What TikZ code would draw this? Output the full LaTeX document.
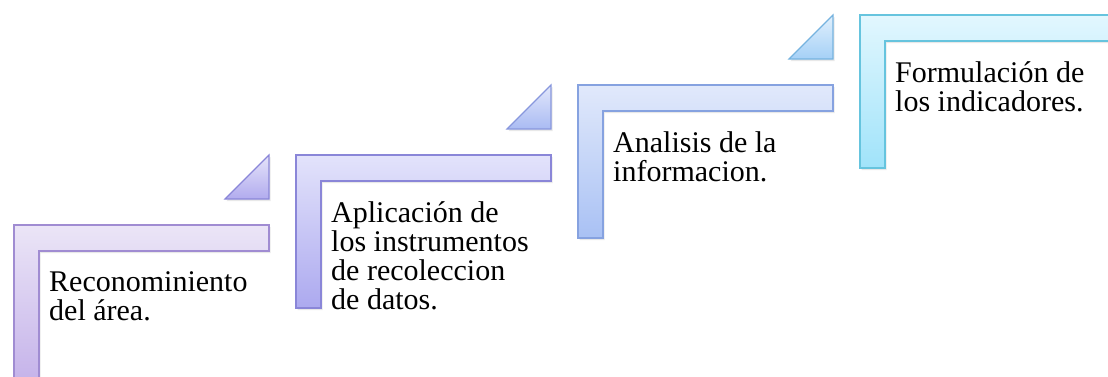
\documentclass[tikz,border=0pt]{standalone}
\usepackage{fontspec}
\setmainfont{Liberation Serif}
\definecolor{lilacTop}{HTML}{EBE5F7}
\definecolor{lilacBot}{HTML}{C6B4EA}
\definecolor{lilacRim}{HTML}{A08CD2}
\definecolor{violetTop}{HTML}{E3E3FB}
\definecolor{violetBot}{HTML}{ACA9EF}
\definecolor{violetRim}{HTML}{8A86D8}
\definecolor{blueTop}{HTML}{E1E9FB}
\definecolor{blueBot}{HTML}{A9C1F4}
\definecolor{blueRim}{HTML}{86A2E0}
\definecolor{cyanTop}{HTML}{E2F7FE}
\definecolor{cyanBot}{HTML}{A0E3FA}
\definecolor{cyanRim}{HTML}{66C4DE}
\usetikzlibrary{shadows, positioning}

\tikzset{
  stepshape/.style n args={3}{draw=#3, line width=1.2pt, top color=#1, bottom color=#2,
    drop shadow={opacity=0.18, shadow xshift=1.5pt, shadow yshift=-2pt}},
  steptext/.style={anchor=north west, inner sep=0pt, align=left,
    font=\fontsize{30}{29}\selectfont},
}

\begin{document}
\begin{tikzpicture}[x=1pt, y=-1pt]
  \useasboundingbox (0,0) rectangle (1108,376);
  \clip (0,0) rectangle (1108,376);
  % the four steps, each shifted up and right
  \foreach \i/\top/\bot/\rim/\txt in {
      0/lilacTop/lilacBot/lilacRim/{Reconominiento\\del área.},
      1/violetTop/violetBot/violetRim/{Aplicación de\\los instrumentos\\de recoleccion\\de datos.},
      2/blueTop/blueBot/blueRim/{Analisis de la\\informacion.},
      3/cyanTop/cyanBot/cyanRim/{Formulación de\\los indicadores.}} {
    \begin{scope}[shift={(282*\i,-70*\i)}]
      \path[stepshape={\top}{\bot}{\rim}]
        (14,225) -- (269,225) -- (269,251) -- (39,251) -- (39,378) -- (14,378) -- cycle;
      \node[steptext] (step\i) at (49,271) {\txt};
    \end{scope}
  }
  % the small arrows between steps
  \foreach \i/\top/\bot/\rim in {
      0/violetTop!70!lilacTop/violetBot!80!lilacBot/violetRim,
      1/blueTop!60!violetTop/blueBot!75!violetBot/blueRim!60!violetRim,
      2/cyanTop!50!blueTop/cyanBot!45!blueBot/blueRim!50!cyanRim} {
    \begin{scope}[shift={(282*\i,-70*\i)}]
      \path[stepshape={\top}{\bot}{\rim}]
        (269,155) -- (269,199) -- (225,199) -- cycle;
    \end{scope}
  }
\end{tikzpicture}
\end{document}
